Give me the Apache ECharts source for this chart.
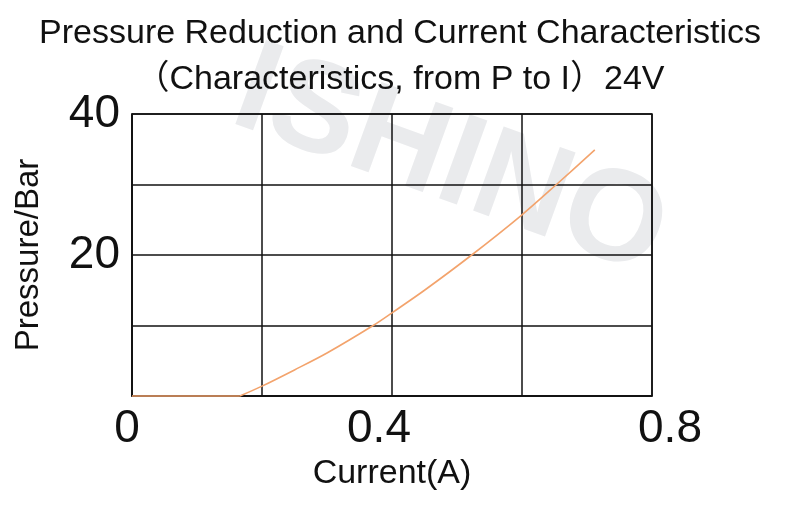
<!DOCTYPE html>
<html>
<head>
<meta charset="utf-8">
<script src="https://cdn.jsdelivr.net/npm/echarts@6/dist/echarts.min.js"></script>
<style>
html,body{margin:0;padding:0;background:#fff;}
#chart{width:800px;height:510px;}
</style>
</head>
<body>
<div id="chart"></div>
<script>
// Data
// flat part (no pressure until the threshold current)
var flatCurrentA    = [0, 0.166];
var flatPressureBar = [0, 0];
// rising part
var riseCurrentA    = [0.166, 0.2, 0.25, 0.3, 0.371, 0.4,  0.45, 0.5226, 0.6,  0.653, 0.712];
var risePressureBar = [0,     1.4, 3.7,  6.1, 10,    11.8, 15.0, 20,     25.7, 30,    34.9];
var xTickLabels = ['0', '0.4', '0.8'];
var yTickLabels = ['20', '40'];

var titleLine1 = 'Pressure Reduction and Current Characteristics';
var titleLine2 = '\uFF08Characteristics, from P to I\uFF0924V';
var watermark = 'ISHINO';

var FONT = '"Liberation Sans", Arial, "Noto Sans CJK SC", sans-serif';

var chart = echarts.init(document.getElementById('chart'), null, {renderer: 'canvas'});

function pairs(xs, ys) { return xs.map(function (x, i) { return [x, ys[i]]; }); }

var lineStyle = {color: '#f3a36c', width: 1.6};

chart.setOption({
  backgroundColor: '#ffffff',
  animation: false,
  textStyle: {fontFamily: FONT},
  title: [
    {text: titleLine1, left: 'center', top: 12,
     textStyle: {fontFamily: FONT, fontSize: 34, fontWeight: 'normal', color: '#111', lineHeight: 34}},
    {text: titleLine2, left: 'center', top: 58,
     textStyle: {fontFamily: FONT, fontSize: 34, fontWeight: 'normal', color: '#111', lineHeight: 34}}
  ],
  graphic: [
    {type: 'text', x: 450, y: 164, rotation: -20 * Math.PI / 180, z: -100, silent: true,
     style: {text: watermark, fontFamily: FONT, fontSize: 130, fontWeight: 'bold',
             fill: '#eaebed', align: 'center', verticalAlign: 'middle'}}
  ],
  grid: {left: 132, right: 148, top: 114, bottom: 114, show: true,
         borderColor: '#111', borderWidth: 1.5, backgroundColor: 'transparent'},
  xAxis: {
    type: 'value', min: 0, max: 0.8, interval: 0.2,
    name: 'Current(A)', nameLocation: 'middle', nameGap: 58,
    nameTextStyle: {fontFamily: FONT, fontSize: 34, color: '#111'},
    axisLine: {show: true, lineStyle: {color: '#111', width: 1.5}},
    axisTick: {show: false},
    splitLine: {show: true, lineStyle: {color: '#111', width: 1.5}},
    axisLabel: {
      margin: 10, color: '#111', fontFamily: FONT, fontSize: 46,
      formatter: function (v) {
        var s = (Math.round(v * 10) / 10).toString();
        if (s === xTickLabels[0]) return '{a|' + s + '}';
        if (s === xTickLabels[1]) return '{b|' + s + '}';
        if (s === xTickLabels[2]) return '{c|' + s + '}';
        return '';
      },
      rich: {
        a: {fontFamily: FONT, fontSize: 46, color: '#111', padding: [0, 10, 0, 0]},
        b: {fontFamily: FONT, fontSize: 46, color: '#111', padding: [0, 26, 0, 0]},
        c: {fontFamily: FONT, fontSize: 46, color: '#111', padding: [0, 0, 0, 36]}
      }
    }
  },
  yAxis: {
    type: 'value', min: 0, max: 40, interval: 10,
    name: 'Pressure/Bar', nameLocation: 'middle', nameGap: 87, nameRotate: 90,
    nameTextStyle: {fontFamily: FONT, fontSize: 33, color: '#111'},
    axisLine: {show: true, lineStyle: {color: '#111', width: 1.5}},
    axisTick: {show: false},
    splitLine: {show: true, lineStyle: {color: '#111', width: 1.5}},
    axisLabel: {
      margin: 12, color: '#111', fontFamily: FONT, fontSize: 46,
      padding: [0, 0, 10, 0],
      formatter: function (v) {
        var s = String(v);
        return yTickLabels.indexOf(s) >= 0 ? s : '';
      }
    }
  },
  series: [
    {type: 'line', data: pairs(flatCurrentA, flatPressureBar), showSymbol: false,
     clip: false, z: 5, lineStyle: lineStyle},
    {type: 'line', data: pairs(riseCurrentA, risePressureBar), smooth: 0.3, showSymbol: false,
     clip: false, z: 5, lineStyle: lineStyle}
  ]
});
</script>
</body>
</html>
